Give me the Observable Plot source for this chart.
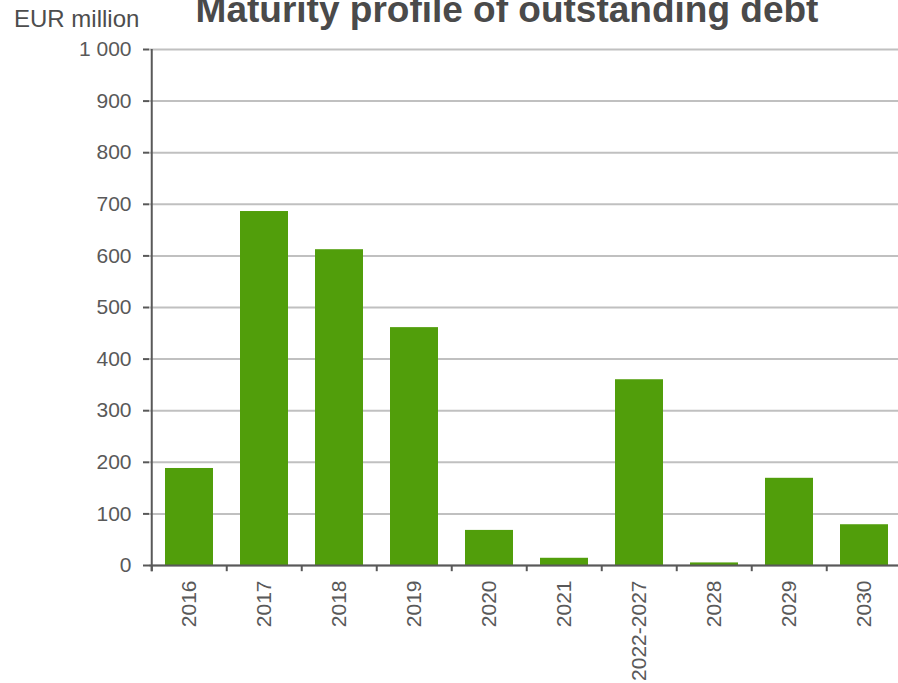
<!DOCTYPE html>
<html>
<head>
<meta charset="utf-8">
<script src="https://cdn.jsdelivr.net/npm/d3@7"></script>
<script src="https://cdn.jsdelivr.net/npm/@observablehq/plot@0.6"></script>
<style>
  html, body { margin: 0; padding: 0; background: #fff; overflow: hidden; }
  #wrap { position: relative; width: 898px; height: 683px; font-family: "Liberation Sans", Arial, sans-serif; }
  #title { position: absolute; left: 507px; top: -9px; transform: translateX(-50%); white-space: nowrap;
           font-size: 37px; font-weight: bold; line-height: 1; color: #4a4a4a; }
  #unit { position: absolute; left: 14px; top: 7px; font-size: 24px; line-height: 1; color: #4d4d4d; white-space: nowrap; }
  #chart { position: absolute; left: 0; top: 0; }
</style>
</head>
<body>
<div id="wrap">
  <div id="chart"></div>
  <div id="title">Maturity profile of outstanding debt</div>
  <div id="unit">EUR million</div>
</div>
<script>
const categories = ["2016", "2017", "2018", "2019", "2020", "2021", "2022-2027", "2028", "2029", "2030"];
const values = [188, 686, 612, 461, 68, 14, 360, 5, 169, 79];
const yTicks = [0, 100, 200, 300, 400, 500, 600, 700, 800, 900, 1000];

const data = categories.map((c, i) => ({category: c, value: values[i]}));

const W = 898, H = 683, mL = 149, mR = -6;
const step = (W - mR - mL) / categories.length;
const axisColor = "#595959";
const fmt = d => d3.format(",")(d).replace(/,/g, " ");

const chart = Plot.plot({
  width: W,
  height: H,
  marginLeft: mL,
  marginRight: mR,
  marginTop: 49,
  marginBottom: 118,
  style: {fontFamily: "'Liberation Sans', Arial, sans-serif", fontSize: "21px", color: axisColor, background: "transparent", overflow: "visible"},
  x: {type: "band", domain: categories, paddingInner: 0.36, paddingOuter: 0.18, align: 0.5},
  y: {domain: [0, 1000]},
  marks: [
    Plot.gridY(yTicks, {stroke: "#c0c0c0", strokeWidth: 2, strokeOpacity: 1}),
    Plot.barY(data, {x: "category", y: "value", fill: "#519e0b"}),
    Plot.ruleY([0], {stroke: axisColor, strokeWidth: 2}),
    Plot.ruleX(categories, {x: d => d, dx: -step / 2, y1: 0, y2: -12, stroke: axisColor, strokeWidth: 2}),
    Plot.ruleX([categories[0]], {x: d => d, dx: -step / 2, y1: -12, y2: 1000, stroke: axisColor, strokeWidth: 2}),
    Plot.axisY({ticks: yTicks, tickFormat: fmt, tickSize: 6, tickPadding: 12, stroke: axisColor, strokeWidth: 2, fill: axisColor, fontSize: 21, label: null}),
    Plot.axisX({tickSize: 0, tickPadding: 15, tickRotate: -90, fill: axisColor, fontSize: 21, label: null})
  ]
});
document.getElementById("chart").appendChild(chart);
</script>
</body>
</html>
